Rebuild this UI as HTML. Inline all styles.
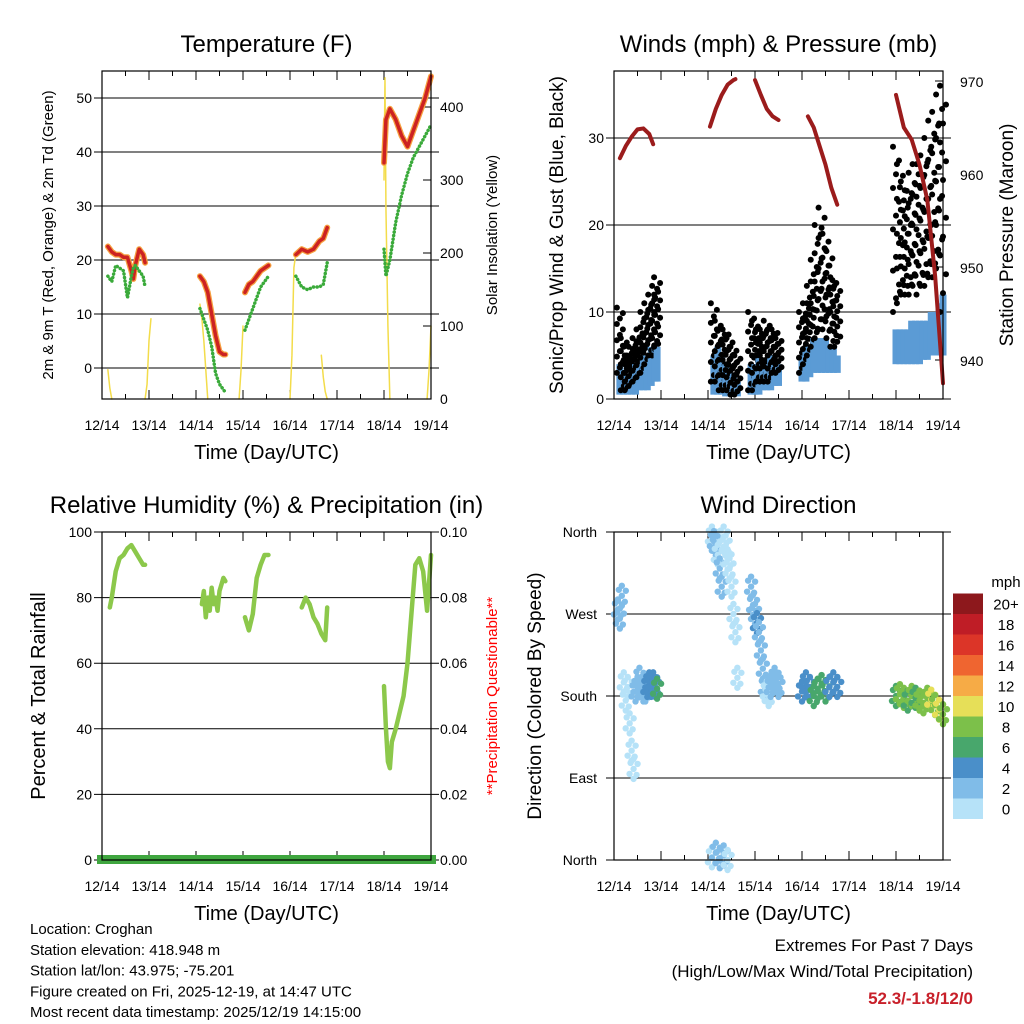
<!DOCTYPE html>
<html><head><meta charset="utf-8"><style>
body{margin:0;background:#fff}
svg{display:block;font-family:"Liberation Sans",sans-serif}
</style></head><body>
<svg id="c" width="1024" height="1024" viewBox="0 0 1024 1024" xmlns="http://www.w3.org/2000/svg"></svg>
<script>
// ---------- DATA (hours since 12/14 14:00 UTC) ----------
const dayLabels = ["12/14","13/14","14/14","15/14","16/14","17/14","18/14","19/14"];
const tempTicks = [0,10,20,30,40,50];
const solarTicks = [0,100,200,300,400];
const windTicks = [0,10,20,30];
const presTicks = [940,950,960,970];
const rhTicks = [0,20,40,60,80,100];
const precipTicks = ["0.00","0.02","0.04","0.06","0.08","0.10"];
const dirTicks = ["North","East","South","West","North"];
const speedLabels = ["0","2","4","6","8","10","12","14","16","18","20+"];

const tempH = [[3,5,7,9,11,13,15,16,17,19,21,22],[50,52,54,56,58,60,62,63],[73,75,77,79,81,83,85],[99,102,105,108,111,113,115],[144,145,147,150,153,156,159,162,165,168]];
const tempRed = [[22.5,21.5,21,21,20.5,20.5,18,16.5,19,22,21,19.5],[17,16,14,10,6,3,2.5,2.5],[14,15.5,16,17,18,18.5,19],[21,22,21.5,22,23.5,24,26],[38,46,48,46,43,41,44,47,50,54]];
const tempTd = [[17,16,19,18.5,18,13,17,18.5,19,18,17,15],[11,9,7,4,-1,-3,-4,-4.5],[7,9,11,13,15,16,17],[17,15,14.5,15,15,15.5,19.5],[22,17,20,27,32,36,39,41,43,45]];
const solarH = [[3,4,5],[22,23,24,25],[50,51,52,53,54],[70,71,72],[96,97,98,99],[112,113,114,115],[144,144.5,145,146,147],[166,167,168]];
const solarV = [[40,15,0],[0,20,80,110],[130,110,80,40,0],[0,40,100],[0,60,180,200],[60,30,10,0],[300,440,260,100,0],[0,40,100]];

const windH = [3,5,7,9,11,13,15,17,19,21,22, 51,53,55,57,59,61,63, 70,72,74,76,78,80,82,84, 96,98,100,102,104,106,108,110,112,114, 144,146,148,150,152,154,156,158,160,162,164,166,168];
const windLo = [0.5,0.5,0.5,0.5,0.5,1,1,1,1.5,2,2, 0.5,0.5,0.5,0.3,0.3,0.3,0.3, 0.5,0.5,0.5,1,1,1,1.5,1.5, 2,2,2.5,3,3,3,3,3,3,3, 4,4,4,4,4,4,4,4.5,4.5,5,5,5,5];
const windHi = [4,3,2.5,3,4,4,5,5,6,6,6, 5,6,5,4,3,3,2, 4,4,5,4,4,5,4,4, 5,6,6,7,7,7,7,6,6,5, 8,8,8,8,9,9,9,9,9,10,10,11,12];
const gustLo = [3,1,1,1.5,2,2.5,3,4,5,5,6, 2,2,1,1,1,0.5,0.5, 1,1,2,2,2,2,3,3, 3,4,5,6,7,8,8,7,6,6, 10,11,12,12,12,13,12,13,13,14,14,15,10];
const gustHi = [10.5,7,5,6,7,8,10,11,12,13,14, 11,9,8,8,7,6,5, 10,9,8,8,9,8,8,7, 10,11,13,16,20,22,19,17,14,13, 29,27,25,24,26,27,27,28,30,32,33,35,36];

const presH = [[3,6,9,12,15,18,20],[49,52,55,58,61,62],[72,75,78,81,84],[99,102,105,108,111,114],[144,148,152,156,160,164,168]];
const presV = [[961.7,963,964,964.8,964.9,964.3,963.2],[965.1,967,968.5,969.6,970.1,970.2],[970.1,968.5,967,966.2,965.8],[966.2,965,963,961,958.5,956.7],[968.5,965,963.7,961,957.2,949,937.5]];

const rhH = [[4,5,7,9,11,13,15,17,19,21,22],[51,52,53,54,55,56,57,58,59,60,61,62,63],[73,74,75,77,79,81,83,85],[102,104,106,108,110,112,114,115],[144,145,146,147,148,150,152,154,156,158,160,162,164,166,168]];
const rhV = [[77,80,88,92,93,95,96,94,92,90,90],[78,82,74,80,76,83,78,80,76,82,84,86,85],[74,72,70,75,86,90,93,93],[77,80,78,74,72,69,67,77],[53,40,30,28,36,40,45,50,60,75,90,92,88,76,93]];

const dirH = [2,3,4,5,6,7,8,9,10,11,12,13,14,15,16,17,18,19,20,21,22, 50,51,52,53,54,55,56,57,58,59,60,61,62,63, 50,52,54,56,58, 70,71,72,73,74,75,76,77,78,79,80,81,82,83,84, 96,98,100,102,104,106,108,110,112,114, 144,146,148,150,152,154,156,158,160,162,164,166,168];
const dirV = [275,265,290,195,175,190,150,120,100,185,190,200,190,185,185,190,195,190,195,190,188, 355,350,345,335,320,300,355,345,330,320,300,270,250,200, 3,8,2,5,0, 300,280,270,260,250,230,210,190,185,180,190,195,200,195,190, 185,195,190,180,188,192,185,190,195,190, 180,182,178,175,180,178,175,172,178,176,170,165,160];
const dirS = [2,2,3,1,0,1,0,0,0,2,3,3,3,3,3,4,4,4,5,4,6, 1,2,2,1,2,2,0,1,1,0,1,0,0,0, 1,3,2,2,0, 2,3,3,4,3,2,2,2,1,1,2,2,3,2,2, 4,4,5,6,6,7,6,5,4,4, 7,8,8,6,8,7,9,9,8,10,9,10,9];

// ---------- RENDERING ----------
const svg = document.getElementById('c');
const NS = "http://www.w3.org/2000/svg";
function mk(tag, attrs, parent){const e=document.createElementNS(NS,tag);for(const k in attrs)e.setAttribute(k,attrs[k]);(parent||svg).appendChild(e);return e;}
function txt(s,x,y,size,anchor,parent,extra){const e=mk('text',Object.assign({x:x,y:y,'font-size':size,'text-anchor':anchor||'middle',fill:'#000'},extra||{}),parent);e.textContent=s;return e;}
const speedColors=["#b6e2f8","#80bce8","#4a8fc9","#48a76c","#7cc04a","#e6df58","#f6ab46","#ef6530","#dc3528","#bf1d26","#8d181c"];
function spCol(s){return speedColors[Math.min(10,Math.floor(s/2))];}

function panel(name,L,T,W,H,yMin,yMax,ticks,title,ylab,ylabX,ylabSize){
  const g=mk('g',{});
  
  
  const X=h=>L+h/168*W;
  const Y=v=>T+H-(v-yMin)/(yMax-yMin)*H;
  ticks.forEach(v=>{mk('line',{x1:L-8,x2:L+W+8,y1:Y(v),y2:Y(v),stroke:'#000','stroke-width':1},g);
    const t=txt(String(v),L-10,Y(v)+5,14,'end',g);});
  for(let d=0;d<=7;d++){const x=L+d*W/7;
    mk('line',{x1:x,x2:x,y1:T,y2:T+9,stroke:'#000'},g);mk('line',{x1:x,x2:x,y1:T+H-9,y2:T+H,stroke:'#000'},g);
    const t=txt(dayLabels[d],x,T+H+31,14,'middle',g);}
  for(let d=0;d<7;d++){const x=L+(d+0.5)*W/7;mk('line',{x1:x,x2:x,y1:T,y2:T+5,stroke:'#000'},g);mk('line',{x1:x,x2:x,y1:T+H-5,y2:T+H,stroke:'#000'},g);}
  const tt=txt(title,L+W/2,T-19,24,'middle',g);
  const xl=txt("Time (Day/UTC)",L+W/2,T+H+60,20,'middle',g);
  const yl=txt(ylab,ylabX,T+H/2,ylabSize,'middle',g,{transform:`rotate(-90 ${ylabX} ${T+H/2})`});
  return {g,X,Y,L,T,W,H};
}
function frame(p){mk('rect',{x:p.L,y:p.T,width:p.W,height:p.H,fill:'none',stroke:'#000','stroke-width':1.2},p.g);}
function poly(p,hs,vs,Yf,col,w,name){const pts=hs.map((h,i)=>p.X(h)+','+Yf(vs[i])).join(' ');
  const e=mk('polyline',{points:pts,fill:'none',stroke:col,'stroke-width':w,'stroke-linejoin':'round','stroke-linecap':'round'},p.g);
  return e;}

// Panel 1
const p1=panel('temperature-panel',102,71,329,328,-5.74,55,tempTicks,"Temperature (F)","2m & 9m T (Red, Orange) & 2m Td (Green)",53,15);
const Ys1=v=>399-v*0.73;
solarTicks.forEach(v=>{mk('line',{x1:431-8,x2:431,y1:Ys1(v),y2:Ys1(v),stroke:'#000'},p1.g);const t=txt(String(v),440,Ys1(v)+5,14,'start',p1.g);});
{const t=txt("Solar Insolation (Yellow)",497,235,15,'middle',p1.g,{transform:'rotate(-90 497 235)'});}
solarH.forEach((h,i)=>poly(p1,h,solarV[i],Ys1,'#f3dc4a',1.5,'solar-line'));
tempH.forEach((h,i)=>{poly(p1,h,tempRed[i],p1.Y,'#f6a040',6,'temp-9m-line');poly(p1,h,tempRed[i],p1.Y,'#cc2222',3.5,'temp-2m-line');
  const e=poly(p1,h,tempTd[i],p1.Y,'#3aaa3a',3.5,'dewpoint-line');e.setAttribute('stroke-dasharray','0.1 3.5');});
frame(p1);

// Panel 2
const p2=panel('winds-pressure-panel',614,71,329,328,0,37.7,windTicks,"Winds (mph) & Pressure (mb)","Sonic/Prop Wind & Gust (Blue, Black)",563,19);
const Yp=v=>174-(v-960)*9.3;
presTicks.forEach(v=>{mk('line',{x1:943-8,x2:943,y1:Yp(v),y2:Yp(v),stroke:'#000'},p2.g);const t=txt(String(v),960,Yp(v)+6,14,'start',p2.g);});
{const t=txt("Station Pressure (Maroon)",1013,235,19,'middle',p2.g,{transform:'rotate(-90 1013 235)'});}
windH.forEach((h,i)=>{const x=p2.X(h);
  const b=mk('rect',{x:x-3.5,y:p2.Y(windHi[i]),width:7,height:p2.Y(windLo[i])-p2.Y(windHi[i]),fill:'#5b9bd5'},p2.g);
  
  const n=12;for(let k=0;k<=n;k++){const v=gustLo[i]+(gustHi[i]-gustLo[i])*k/n;
    const c=mk('circle',{cx:x+(k%3-1)*3,cy:p2.Y(v),r:3,fill:'#000'},p2.g);
    }
});
presH.forEach((h,i)=>poly(p2,h,presV[i],Yp,'#9b1c1c',4,'pressure-line'));
frame(p2);

// Panel 3
const p3=panel('humidity-panel',102,532,329,328,0,100,rhTicks,"Relative Humidity (%) & Precipitation (in)","Percent & Total Rainfall",45,20);
rhTicks.forEach((v,i)=>{const t=txt(precipTicks[i],440,p3.Y(v)+5,14,'start',p3.g);});
{const t=txt("**Precipitation Questionable**",497,696,15,'middle',p3.g,{transform:'rotate(-90 497 696)',fill:'#ff0000'});}
rhH.forEach((h,i)=>poly(p3,h,rhV[i],p3.Y,'#8cc84b',4.5,'rh-line'));
{const r=mk('rect',{x:97,y:855,width:339,height:9,fill:'#3fa63f'},p3.g);}
frame(p3);

// Panel 4
const p4=panel('wind-direction-panel',614,532,329,328,0,360,[],"Wind Direction","Direction (Colored By Speed)",541,19);
dirTicks.forEach((s,i)=>{const y=p4.Y(i*90);mk('line',{x1:606,x2:951,y1:y,y2:y,stroke:'#000'},p4.g);const t=txt(s,597,y+5,14,'end',p4.g);});
const offs=[[0,0],[-3,-6],[3,6],[-4,5],[4,-5],[0,10],[0,-10]];
dirH.forEach((h,i)=>{offs.forEach(o=>{const c=mk('circle',{cx:p4.X(h)+o[0],cy:p4.Y(dirV[i])+o[1],r:3.2,fill:spCol(dirS[i])},p4.g);
  });});
frame(p4);
{const g=mk('g',{});
 txt("mph",1006,587,15,'middle',g);
 speedLabels.forEach((s,i)=>{const y=798.5-i*20.5;mk('rect',{x:953,y:y,width:30,height:20.5,fill:speedColors[i]},g);txt(s,1006,y+16,15,'middle',g);});}

// footer
{const g=mk('g',{});
 ["Location: Croghan","Station elevation: 418.948 m","Station lat/lon: 43.975; -75.201","Figure created on Fri, 2025-12-19, at 14:47 UTC","Most recent data timestamp: 2025/12/19 14:15:00"].forEach((s,i)=>txt(s,30,934+i*20.8,15,'start',g));}
{const g=mk('g',{});
 txt("Extremes For Past 7 Days",973,951,17,'end',g);
 txt("(High/Low/Max Wind/Total Precipitation)",973,977,17,'end',g);
 txt("52.3/-1.8/12/0",973,1004,17,'end',g,{fill:'#c8202a','font-weight':'bold'});}
</script>
</body></html>
